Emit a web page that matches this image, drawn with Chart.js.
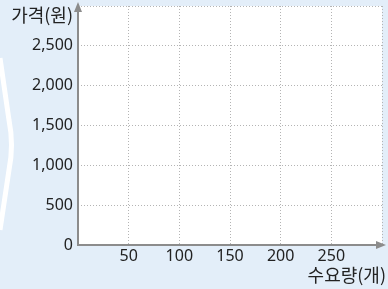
<!DOCTYPE html>
<html>
<head>
<meta charset="utf-8">
<script src="https://cdn.jsdelivr.net/npm/chart.js@4/dist/chart.umd.min.js"></script>
<style>
  html, body { margin: 0; padding: 0; background: #e3eef9; }
  #wrap { width: 388px; height: 289px; position: relative; }
</style>
</head>
<body>
<div id="wrap"><canvas id="demandChart"></canvas></div>
<script>
// Axis ranges and tick labels (empty grid, no series yet)
const xTickValues = [50, 100, 150, 200, 250];
const yTickValues = [0, 500, 1000, 1500, 2000, 2500];
const xMax = 300;
const yMax = 3000;
const xTitle = '수요량(개)';
const yTitle = '가격(원)';
const points = [];

const AXIS_COLOR = '#8c8c8c';
const GRID_COLOR = '#b4b4b4';
const TEXT_COLOR = '#222222';

// Light background, white chevron band on the left, white plot area
const backdrop = {
    id: 'backdrop',
    beforeDraw(chart) {
        const { ctx, chartArea: a } = chart;
        ctx.save();
        ctx.fillStyle = '#e3eef9';
        ctx.fillRect(0, 0, chart.width, chart.height);
        ctx.strokeStyle = '#ffffff';
        ctx.lineWidth = 5;
        ctx.beginPath();
        ctx.moveTo(0, 58);
        ctx.lineTo(9, 120);
        ctx.quadraticCurveTo(14, 145, 9, 170);
        ctx.lineTo(0, 230);
        ctx.stroke();
        ctx.fillStyle = '#ffffff';
        ctx.fillRect(a.left, a.top, a.right - a.left, a.bottom - a.top);
        ctx.restore();
    }
};

// Grey axes with arrowheads plus the two axis titles
const arrowAxes = {
    id: 'arrowAxes',
    afterDraw(chart) {
        const { ctx, chartArea: a } = chart;
        ctx.save();
        ctx.strokeStyle = AXIS_COLOR;
        ctx.fillStyle = AXIS_COLOR;
        ctx.lineWidth = 2;
        ctx.beginPath();
        ctx.moveTo(a.left, a.top + 2);
        ctx.lineTo(a.left, a.bottom);
        ctx.lineTo(a.right, a.bottom);
        ctx.stroke();
        // y arrow
        ctx.beginPath();
        ctx.moveTo(a.left, a.top - 4);
        ctx.lineTo(a.left - 4, a.top + 6);
        ctx.lineTo(a.left + 4, a.top + 6);
        ctx.closePath();
        ctx.fill();
        // x arrow
        ctx.beginPath();
        ctx.moveTo(a.right + 4, a.bottom);
        ctx.lineTo(a.right - 6, a.bottom - 4);
        ctx.lineTo(a.right - 6, a.bottom + 4);
        ctx.closePath();
        ctx.fill();

        ctx.fillStyle = TEXT_COLOR;
        ctx.font = '18px "Noto Sans CJK KR"';
        ctx.textAlign = 'right';
        ctx.textBaseline = 'middle';
        ctx.fillText(yTitle, a.left - 5, 15);
        ctx.fillText(xTitle, chart.width - 2, 275);
        ctx.restore();
    }
};

new Chart(document.getElementById('demandChart'), {
    type: 'scatter',
    data: {
        datasets: [{ data: points, pointRadius: 0 }]
    },
    options: {
        responsive: true,
        maintainAspectRatio: false,
        animation: false,
        layout: { padding: { top: 6, right: 6, left: 0, bottom: 0 } },
        plugins: {
            legend: { display: false },
            tooltip: { enabled: false }
        },
        scales: {
            x: {
                type: 'linear',
                min: 0,
                max: xMax,
                afterBuildTicks: (scale) => {
                    scale.ticks = [0, ...xTickValues, xMax].map(v => ({ value: v }));
                },
                afterFit: (scale) => {
                    scale.height = 44;
                    scale.paddingLeft = 0;
                    scale.paddingRight = 0;
                },
                grid: { color: GRID_COLOR, lineWidth: 1, drawTicks: false },
                border: { display: false, dash: [1, 2] },
                ticks: {
                    color: TEXT_COLOR,
                    padding: 2,
                    maxRotation: 0,
                    autoSkip: false,
                    font: { family: 'Noto Sans', size: 16 },
                    callback: (v) => xTickValues.includes(v) ? v : ''
                }
            },
            y: {
                type: 'linear',
                min: 0,
                max: yMax,
                afterBuildTicks: (scale) => {
                    scale.ticks = [...yTickValues, yMax].map(v => ({ value: v }));
                },
                afterFit: (scale) => {
                    scale.width = 78;
                    scale.paddingTop = 0;
                    scale.paddingBottom = 0;
                },
                grid: { color: GRID_COLOR, lineWidth: 1, drawTicks: false },
                border: { display: false, dash: [1, 2] },
                ticks: {
                    color: TEXT_COLOR,
                    padding: 5,
                    autoSkip: false,
                    font: { family: 'Noto Sans', size: 16 },
                    callback: (v) => yTickValues.includes(v) ? v.toLocaleString('en-US') : ''
                }
            }
        }
    },
    plugins: [backdrop, arrowAxes]
});
</script>
</body>
</html>
